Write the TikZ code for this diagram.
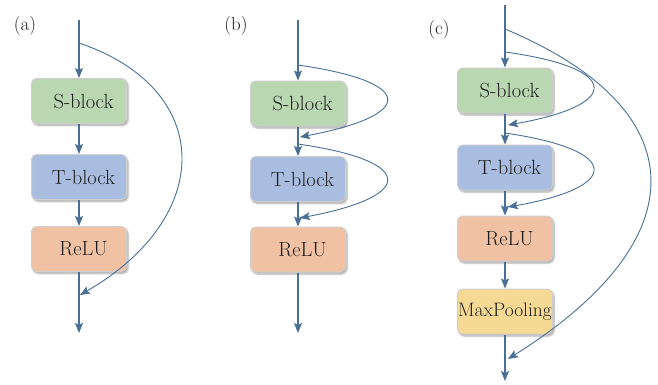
\documentclass[tikz,border=0pt]{standalone}
\usepackage{fontspec}
\usetikzlibrary{arrows.meta,shadows.blur}
\definecolor{ln}{HTML}{4A6F96}
\definecolor{gfill}{HTML}{B9D7B1}
\definecolor{bfill}{HTML}{A8BDE0}
\definecolor{ofill}{HTML}{F1C1A4}
\definecolor{yfill}{HTML}{F6D993}
\definecolor{bord}{HTML}{CFCFCF}
\definecolor{txt}{HTML}{1E1E1E}
\tikzset{
  box/.style={draw=bord, line width=1pt, rounded corners=5pt, minimum width=95pt, minimum height=45pt,
    inner xsep=1pt, text=txt, font=\fontsize{20.5}{24}\selectfont,
    blur shadow={shadow xshift=1.5pt, shadow yshift=-2pt, shadow blur steps=6, shadow opacity=35}},
  flow/.style={draw=ln, line width=1.2pt, -{Stealth[length=10pt,width=8pt,inset=2pt]}},
  skip/.style={draw=ln, line width=0.9pt, -{Stealth[length=10pt,width=8pt,inset=2pt]}},
  tag/.style={text=txt, font=\fontsize{19}{22}\selectfont}
}
\begin{document}
\begin{tikzpicture}[x=1pt,y=-1pt]
\useasboundingbox (0,0) rectangle (658,384);
% ---------- (a)
\node[tag] (la) at (25,26) {(a)};
\coordinate (aT) at (79,20);
\coordinate (aK) at (79,43);
\node[box, fill=gfill] (aS) at (79,101) {\hspace*{9pt}S-block};
\node[box, fill=bfill] (aB) at (79,177) {\hspace*{9pt}T-block};
\node[box, fill=ofill] (aR) at (79,249) {\hspace*{9pt}ReLU};
\coordinate (aE) at (80,295);
\coordinate (aO) at (79,333);
\draw[flow] (aT) -- (aS.north);
\draw[flow] (aS.south) -- (aB.north);
\draw[flow] (aB.south) -- (aR.north);
\draw[flow] (aR.south) -- (aO);
\draw[skip] (aK) .. controls (215,89) and (215,217) .. (aE);
% ---------- (b)
\node[tag] (lb) at (236,26) {(b)};
\coordinate (bT) at (298,20);
\coordinate (bK1) at (298,65);
\node[box, fill=gfill] (bS) at (298,103.5) {\hspace*{9pt}S-block};
\coordinate (bE1) at (300,137);
\coordinate (bK2) at (298,144);
\node[box, fill=bfill] (bB) at (298,179) {\hspace*{9pt}T-block};
\coordinate (bE2) at (300,218);
\node[box, fill=ofill] (bR) at (298,249.5) {\hspace*{9pt}ReLU};
\coordinate (bO) at (298,333);
\draw[flow] (bT) -- (bS.north);
\draw[flow] (bS.south) -- (bB.north);
\draw[flow] (bB.south) -- (bR.north);
\draw[flow] (bR.south) -- (bO);
\draw[skip] (bK1) .. controls (416,82) and (416,115) .. (bE1);
\draw[skip] (bK2) .. controls (416,161) and (416,196) .. (bE2);
% ---------- (c)
\node[tag] (lc) at (439,30) {(c)};
\coordinate (cT) at (505,5);
\coordinate (cK0) at (505,29);
\coordinate (cK1) at (505,52);
\node[box, fill=gfill] (cS) at (505,90.5) {\hspace*{9pt}S-block};
\coordinate (cE1) at (508,125);
\coordinate (cK2) at (505,133);
\node[box, fill=bfill] (cB) at (505,167.5) {\hspace*{9pt}T-block};
\coordinate (cE2) at (508,207);
\node[box, fill=ofill] (cR) at (505,238.5) {\hspace*{9pt}ReLU};
\node[box, fill=yfill] (cM) at (505,311.5) {\makebox[92pt][c]{\fontsize{19.5}{23}\selectfont MaxPooling}};
\coordinate (cE0) at (508,359);
\coordinate (cO) at (505,381);
\draw[flow] (cT) -- (cS.north);
\draw[flow] (cS.south) -- (cB.north);
\draw[flow] (cB.south) -- (cR.north);
\draw[flow] (cR.south) -- (cM.north);
\draw[flow] (cM.south) -- (cO);
\draw[skip] (cK1) .. controls (622,68) and (622,105) .. (cE1);
\draw[skip] (cK2) .. controls (622,150) and (622,187) .. (cE2);
\draw[skip] (cK0) .. controls (698,110) and (698,240) .. (cE0);
\end{tikzpicture}
\end{document}
